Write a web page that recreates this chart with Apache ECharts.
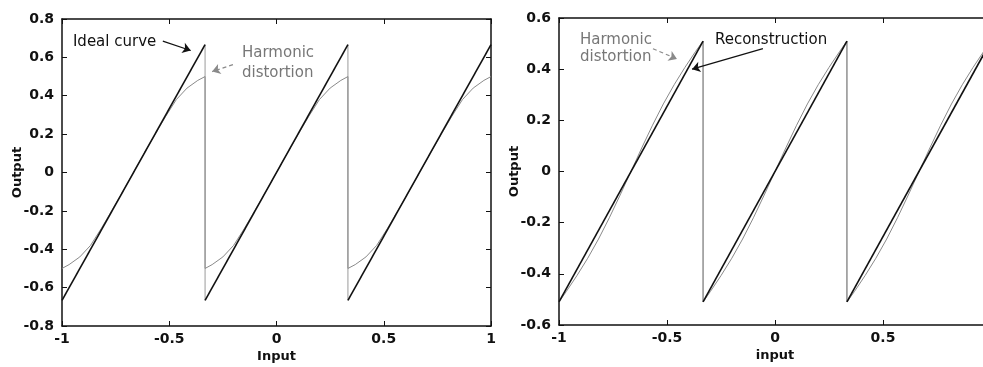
<!DOCTYPE html>
<html>
<head>
<meta charset="utf-8">
<script src="https://cdn.jsdelivr.net/npm/echarts@6/dist/echarts.min.js"></script>
<style>
  html, body { margin: 0; padding: 0; background: #fff; }
  #chart { width: 983px; height: 367px; }
</style>
</head>
<body>
<div id="chart"></div>
<script>
// left panel: ideal sawtooth (segment end points) and harmonic distortion
const leftIdealX = [-1, -0.333, -0.333, 0.333, 0.333, 1];
const leftIdealY = [-0.667, 0.667, -0.667, 0.667, -0.667, 0.667];
const leftJumpX = [-0.333, 0.333];
const leftJumpTop = [0.667, 0.667];
const leftJumpBottom = [-0.667, -0.667];
const leftDistX = [
  -1, -0.967, -0.917, -0.867, -0.817, -0.767, -0.717, -0.667, -0.617, -0.567, -0.517, -0.467, -0.417, -0.367, -0.333,
  -0.333, -0.3, -0.25, -0.2, -0.15, -0.1, -0.05, 0, 0.05, 0.1, 0.15, 0.2, 0.25, 0.3, 0.333,
  0.333, 0.367, 0.417, 0.467, 0.517, 0.567, 0.617, 0.667, 0.717, 0.767, 0.817, 0.867, 0.917, 0.967, 1
];
const leftDistY = [
  -0.5, -0.48, -0.44, -0.38, -0.292, -0.197, -0.1, 0, 0.1, 0.197, 0.292, 0.38, 0.44, 0.48, 0.5,
  -0.5, -0.48, -0.44, -0.38, -0.292, -0.197, -0.1, 0, 0.1, 0.197, 0.292, 0.38, 0.44, 0.48, 0.5,
  -0.5, -0.48, -0.44, -0.38, -0.292, -0.197, -0.1, 0, 0.1, 0.197, 0.292, 0.38, 0.44, 0.48, 0.5
];

// right panel: reconstruction and harmonic distortion
const rightIdealX = [-1, -0.333, -0.333, 0.333, 0.333, 1];
const rightIdealY = [-0.51, 0.51, -0.51, 0.51, -0.51, 0.51];
const rightJumpX = [-0.333, 0.333];
const rightJumpTop = [0.51, 0.51];
const rightJumpBottom = [-0.51, -0.51];
const rightDistX = leftDistX.slice();
const rightDistY = [
  -0.51, -0.47, -0.407, -0.339, -0.264, -0.181, -0.092, 0, 0.092, 0.181, 0.264, 0.339, 0.407, 0.47, 0.51,
  -0.51, -0.47, -0.407, -0.339, -0.264, -0.181, -0.092, 0, 0.092, 0.181, 0.264, 0.339, 0.407, 0.47, 0.51,
  -0.51, -0.47, -0.407, -0.339, -0.264, -0.181, -0.092, 0, 0.092, 0.181, 0.264, 0.339, 0.407, 0.47, 0.51
];

const FONT = 'DejaVu Sans';
const GRAY = '#8a8a8a';

const zip = (xs, ys) => xs.map((x, i) => [x, ys[i]]);

// 线段
const segSeries = (xs, ys, xi, yi, color, width) => {
  const out = [];
  for (let i = 0; i < xs.length; i += 2) {
    out.push({
      type: 'line', xAxisIndex: xi, yAxisIndex: yi, symbol: 'none', silent: true,
      lineStyle: { color: color, width: width },
      data: [[xs[i], ys[i]], [xs[i + 1], ys[i + 1]]]
    });
  }
  return out;
};

const jumpSeries = (xs, tops, bottoms, xi, yi) => xs.map((x, i) => ({
  type: 'line', xAxisIndex: xi, yAxisIndex: yi, symbol: 'none', silent: true,
  lineStyle: { color: '#9a9a9a', width: 1 },
  data: [[x, tops[i]], [x, bottoms[i]]]
}));

const noteLabel = (coord, text, color, lineHeight) => ({
  coord: coord,
  value: text,
  label: {
    show: true, position: 'right', distance: 0, formatter: text,
    color: color, fontFamily: FONT, fontSize: 15, lineHeight: lineHeight
  }
});

const arrow = (from, to, color, dashed) => [
  { coord: from, lineStyle: { color: color, width: 1.2, type: dashed ? [4, 3] : 'solid' } },
  { coord: to }
];

const xAxisBase = (grid, show, pos, name) => ({
  type: 'value', gridIndex: grid, position: pos, min: -1, max: 1, interval: 0.5,
  name: name, nameLocation: 'middle', nameGap: 24, nameMoveOverlap: false,
  nameTextStyle: { fontFamily: FONT, fontSize: 13, fontWeight: 'bold', color: '#111' },
  axisLine: { show: true, onZero: false, lineStyle: { color: '#111', width: 1.5 } },
  axisTick: { show: true, inside: true, length: 5, lineStyle: { color: '#111' } },
  axisLabel: { show: show, margin: 6, fontFamily: FONT, fontSize: 14, fontWeight: 'bold', color: '#111' },
  splitLine: { show: false }
});

const yAxisBase = (grid, show, pos, min, max, name) => ({
  type: 'value', gridIndex: grid, position: pos, min: min, max: max, interval: 0.2,
  name: name, nameLocation: 'middle', nameGap: 38, nameRotate: 90, nameMoveOverlap: false,
  nameTextStyle: { fontFamily: FONT, fontSize: 13, fontWeight: 'bold', color: '#111' },
  axisLine: { show: true, onZero: false, lineStyle: { color: '#111', width: 1.5 } },
  axisTick: { show: true, inside: true, length: 5, lineStyle: { color: '#111' } },
  axisLabel: { show: show, margin: 8, fontFamily: FONT, fontSize: 14, fontWeight: 'bold', color: '#111' },
  splitLine: { show: false }
});

const chart = echarts.init(document.getElementById('chart'));

const option = {
  animation: false,
  backgroundColor: '#fff',
  grid: [
    { left: 62, top: 19, width: 429, height: 307, outerBoundsMode: 'none' },
    { left: 559, top: 18, width: 432, height: 307, outerBoundsMode: 'none' }
  ],
  xAxis: [
    xAxisBase(0, true, 'bottom', 'Input'),
    xAxisBase(0, false, 'top', ''),
    xAxisBase(1, true, 'bottom', 'input'),
    xAxisBase(1, false, 'top', '')
  ],
  yAxis: [
    yAxisBase(0, true, 'left', -0.8, 0.8, 'Output'),
    yAxisBase(0, false, 'right', -0.8, 0.8, ''),
    yAxisBase(1, true, 'left', -0.6, 0.6, 'Output'),
    yAxisBase(1, false, 'right', -0.6, 0.6, '')
  ],
  series: [
    ...jumpSeries(leftJumpX, leftJumpTop, leftJumpBottom, 0, 0),
    ...jumpSeries(rightJumpX, rightJumpTop, rightJumpBottom, 2, 2),
    {
      name: 'Harmonic distortion', type: 'line', xAxisIndex: 0, yAxisIndex: 0,
      symbol: 'none', silent: true,
      lineStyle: { color: GRAY, width: 1 },
      data: zip(leftDistX, leftDistY),
      markPoint: {
        symbol: 'circle', symbolSize: 0, silent: true,
        data: [
          noteLabel([-0.949, 0.68], 'Ideal curve', '#111', 18),
          noteLabel([-0.161, 0.572], 'Harmonic\ndistortion', '#777', 20)
        ]
      },
      markLine: {
        silent: true, symbol: ['none', 'arrow'], symbolSize: 8,
        label: { show: false },
        data: [
          arrow([-0.53, 0.685], [-0.40, 0.636], '#111', false),
          arrow([-0.203, 0.562], [-0.30, 0.526], GRAY, true)
        ]
      }
    },
    {
      name: 'Harmonic distortion', type: 'line', xAxisIndex: 2, yAxisIndex: 2,
      symbol: 'none', silent: true,
      lineStyle: { color: GRAY, width: 1 },
      data: zip(rightDistX, rightDistY),
      markPoint: {
        symbol: 'circle', symbolSize: 0, silent: true,
        data: [
          noteLabel([-0.903, 0.48], 'Harmonic\ndistortion', '#777', 17),
          noteLabel([-0.278, 0.515], 'Reconstruction', '#111', 18)
        ]
      },
      markLine: {
        silent: true, symbol: ['none', 'arrow'], symbolSize: 8,
        label: { show: false },
        data: [
          arrow([-0.565, 0.48], [-0.454, 0.44], GRAY, true),
          arrow([-0.056, 0.48], [-0.384, 0.40], '#111', false)
        ]
      }
    },
    ...segSeries(leftIdealX, leftIdealY, 0, 0, '#111', 1.6),
    ...segSeries(rightIdealX, rightIdealY, 2, 2, '#111', 1.6)
  ]
};

chart.setOption(option);
</script>
</body>
</html>
